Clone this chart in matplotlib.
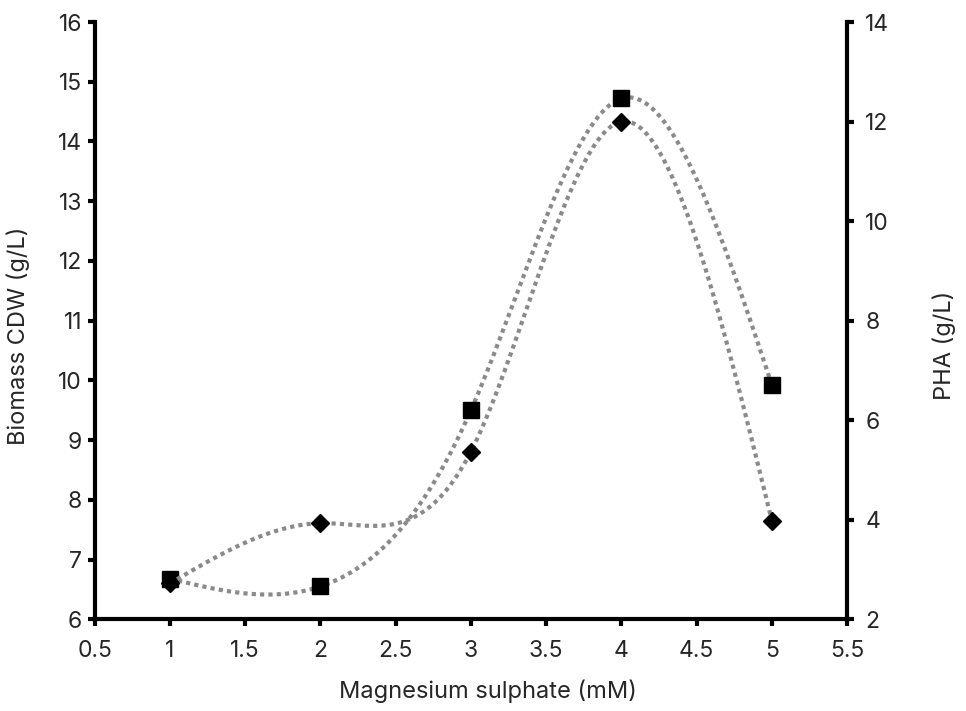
import numpy as np
import matplotlib.pyplot as plt

plt.rcParams['font.family'] = ['Inter', 'DejaVu Sans']

# 硫酸镁浓度 (mM)
mgso4 = [1, 2, 3, 4, 5]
# 生物量 CDW (g/L)，左轴
biomass = [6.68, 6.55, 9.50, 14.72, 9.92]
# PHA 产量 (g/L)，右轴
pha = [2.72, 3.93, 5.37, 12.00, 3.97]


def natural_spline(x, y, n=60):
    """自然三次样条平滑曲线"""
    x = np.asarray(x, float)
    y = np.asarray(y, float)
    k = len(x)
    h = np.diff(x)
    A = np.zeros((k, k))
    b = np.zeros(k)
    A[0, 0] = A[-1, -1] = 1
    for i in range(1, k - 1):
        A[i, i - 1] = h[i - 1]
        A[i, i] = 2 * (h[i - 1] + h[i])
        A[i, i + 1] = h[i]
        b[i] = 6 * ((y[i + 1] - y[i]) / h[i] - (y[i] - y[i - 1]) / h[i - 1])
    M = np.linalg.solve(A, b)
    xs, ys = [], []
    for i in range(k - 1):
        t = np.linspace(x[i], x[i + 1], n)
        a = (x[i + 1] - t) / h[i]
        c = (t - x[i]) / h[i]
        s = a * y[i] + c * y[i + 1] \
            + ((a ** 3 - a) * M[i] + (c ** 3 - c) * M[i + 1]) * h[i] ** 2 / 6
        xs.append(t if i == 0 else t[1:])
        ys.append(s if i == 0 else s[1:])
    return np.concatenate(xs), np.concatenate(ys)


fig = plt.figure(figsize=(9.66, 7.11), dpi=100)
ax = fig.add_axes([0.098, 0.129, 0.779, 0.84])
ax2 = ax.twinx()

line_kw = dict(color='#8a8a8a', linestyle=(0, (1, 1)), linewidth=3.0)

sx, sy = natural_spline(mgso4, biomass)
ax.plot(sx, sy, **line_kw, zorder=2)
ax.plot(mgso4, biomass, 's', color='black', markersize=11.5, zorder=5)

px, py = natural_spline(mgso4, pha)
ax2.plot(px, py, **line_kw, zorder=2)
ax2.plot(mgso4, pha, 'D', color='black', markersize=9, zorder=5)

ax.set_xlim(0.5, 5.5)
ax.set_ylim(6, 16)
ax2.set_ylim(2, 14)
ax.set_xticks(np.arange(0.5, 5.51, 0.5))
ax.set_xticklabels(['0.5', '1', '1.5', '2', '2.5', '3', '3.5', '4', '4.5', '5', '5.5'])
ax.set_yticks(range(6, 17))
ax2.set_yticks(range(2, 15, 2))

for a in (ax, ax2):
    a.spines['top'].set_visible(False)
    for s in a.spines.values():
        s.set_linewidth(3)
    a.tick_params(width=3, length=5, labelsize=16.5, labelcolor='#262626')
ax.spines['right'].set_visible(False)
ax2.spines['left'].set_visible(False)
ax2.spines['bottom'].set_visible(False)
ax.tick_params(axis='y', pad=4)
ax.tick_params(axis='x', pad=10)
ax2.tick_params(axis='y', pad=8)

ax.set_xlabel('Magnesium sulphate (mM)', fontsize=17, color='#262626')
ax.set_ylabel('Biomass CDW (g/L)', fontsize=17, color='#262626')
ax2.set_ylabel('PHA (g/L)', fontsize=17, color='#262626')
ax.xaxis.set_label_coords(0.523, -0.1)
ax.yaxis.set_label_coords(-0.086, 0.474)
ax2.yaxis.set_label_coords(1.113, 0.459)

fig.savefig('out.png', dpi=100)
